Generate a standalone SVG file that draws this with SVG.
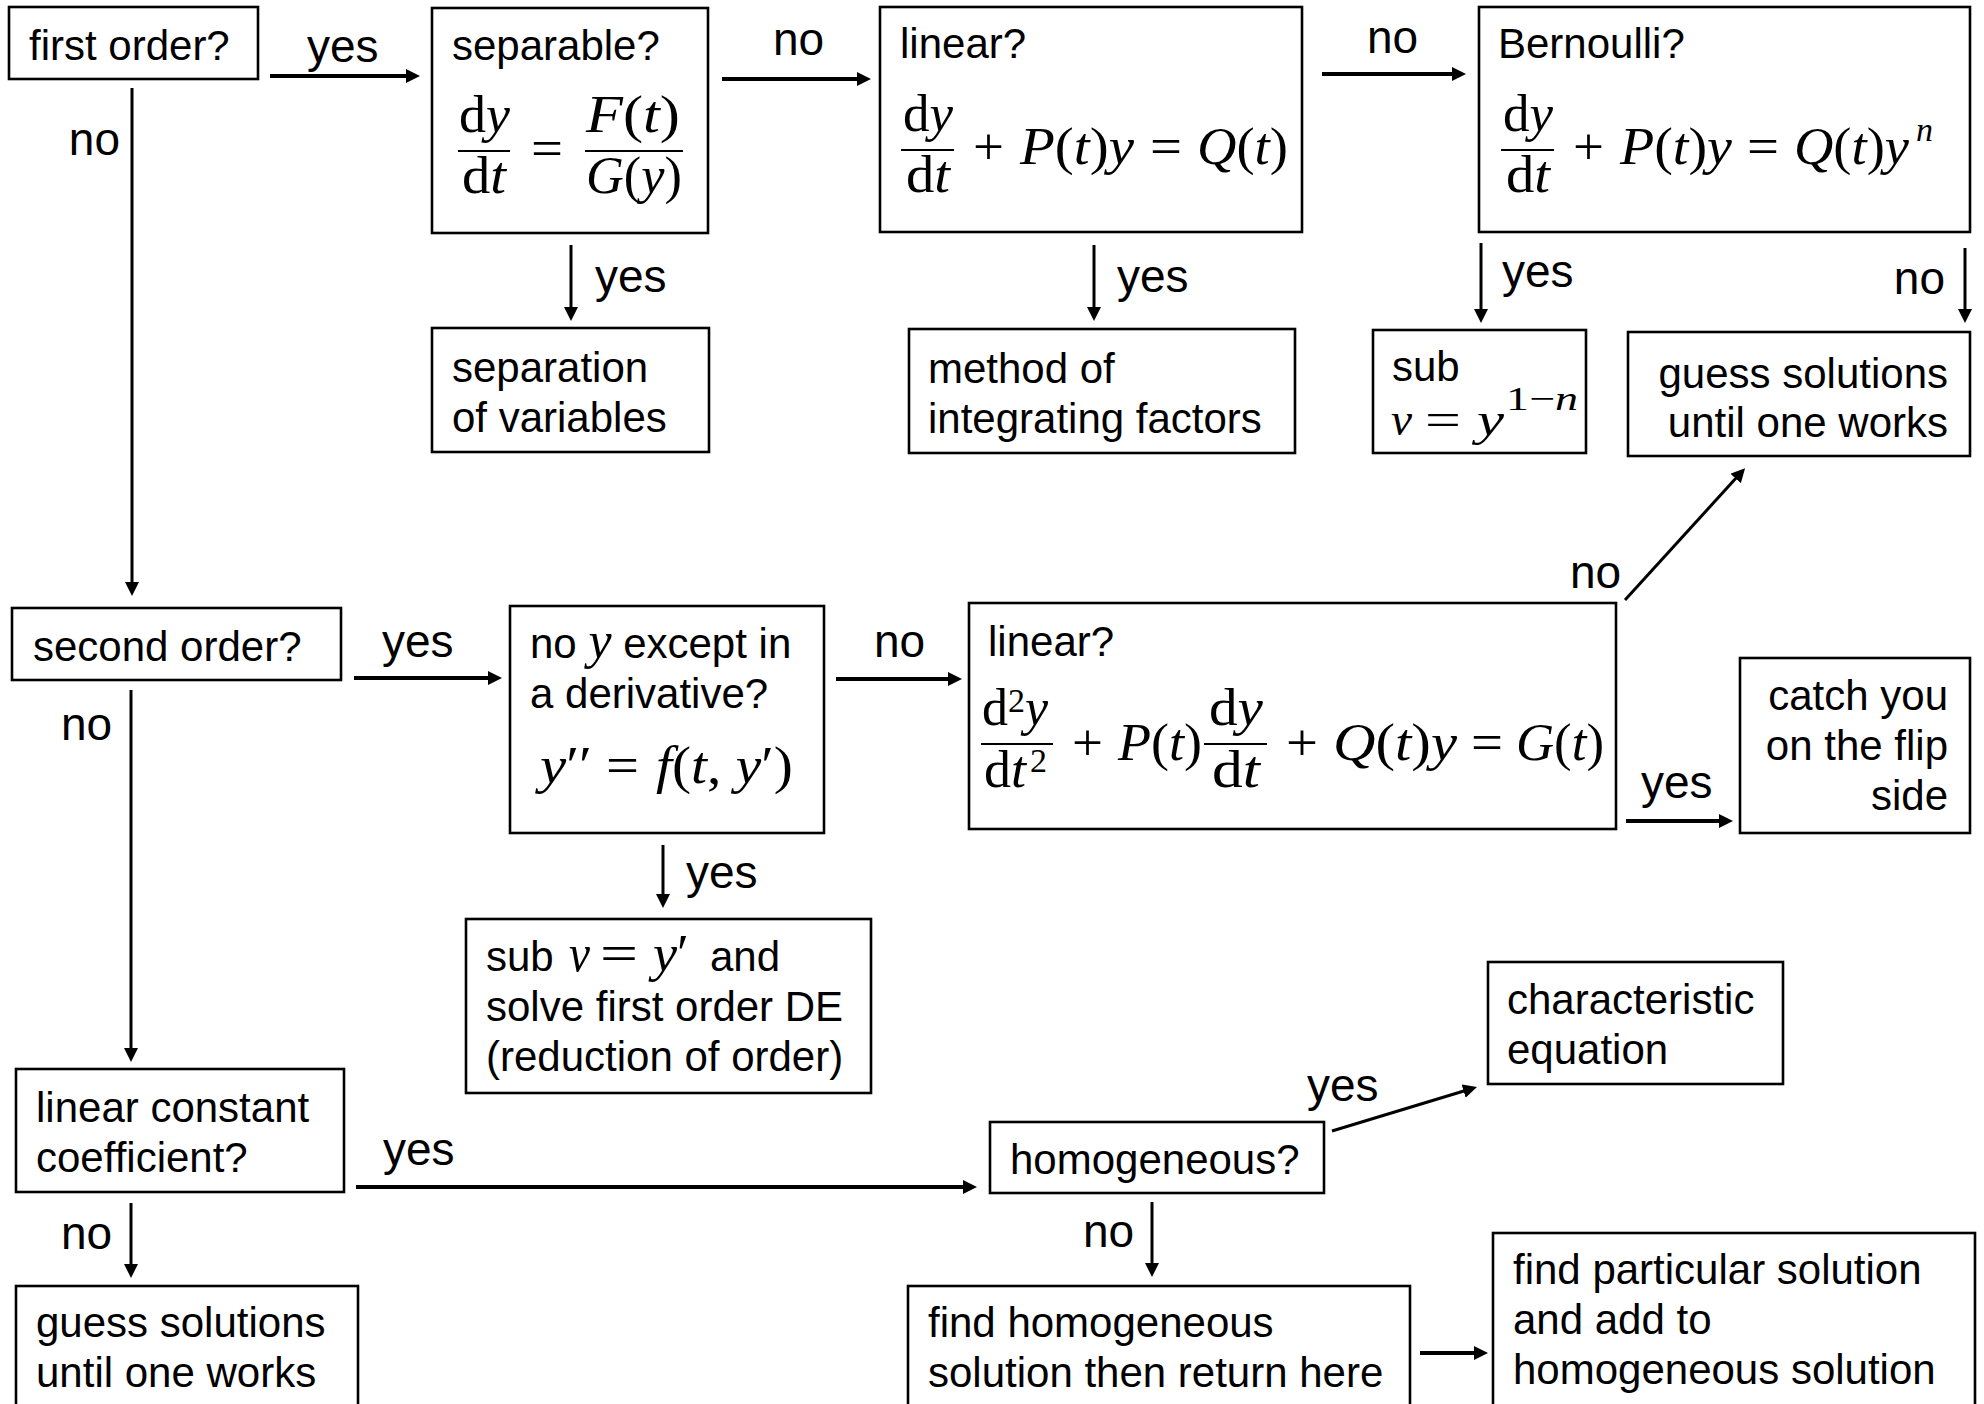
<svg xmlns="http://www.w3.org/2000/svg" width="1984" height="1404" viewBox="0 0 1984 1404">
<style>
  .box { fill: #fff; stroke: #000; stroke-width: 2.6; }
  .t { font-family: "Liberation Sans", Arial, sans-serif; font-size: 42px; fill: #000; }
  .tr { font-family: "Liberation Sans", Arial, sans-serif; font-size: 42px; fill: #000; text-anchor: end; }
  .lb { font-family: "Liberation Sans", Arial, sans-serif; font-size: 46px; fill: #000; }
  .lbe { font-family: "Liberation Sans", Arial, sans-serif; font-size: 46px; fill: #000; text-anchor: end; }
  .m { font-family: "Liberation Serif", "DejaVu Serif", serif; font-size: 52px; fill: #000; }
  .m2 { font-family: "Liberation Serif", "DejaVu Serif", serif; font-size: 46px; fill: #000; }
  .ms { font-family: "Liberation Serif", "DejaVu Serif", serif; font-size: 34px; fill: #000; }
  .i { font-style: italic; }
  .fb { stroke: #000; stroke-width: 2.2; }
  .ch { stroke: #000; stroke-width: 4; fill: none; marker-end: url(#ah); }
  .cv { stroke: #000; stroke-width: 3; fill: none; marker-end: url(#ah); }
</style>
<defs>
  <marker id="ah" markerUnits="userSpaceOnUse" markerWidth="16" markerHeight="16" refX="2" refY="7" orient="auto">
    <path d="M0,0 L14,7 L0,14 Z" fill="#000"/>
  </marker>
</defs>
<rect width="1984" height="1404" fill="#fff"/>

<g id="connectors">
  <line class="ch" x1="270" y1="76" x2="408" y2="76"/>
  <line class="cv" x1="132" y1="88" x2="132" y2="584"/>
  <line class="ch" x1="722" y1="79" x2="859" y2="79"/>
  <line class="ch" x1="1322" y1="74" x2="1454" y2="74"/>
  <line class="cv" x1="571" y1="245" x2="571" y2="309"/>
  <line class="cv" x1="1094" y1="245" x2="1094" y2="309"/>
  <line class="cv" x1="1481" y1="243" x2="1481" y2="311"/>
  <line class="cv" x1="1965" y1="248" x2="1965" y2="311"/>
  <line class="cv" x1="1625" y1="600" x2="1737" y2="477"/>
  <line class="ch" x1="354" y1="678" x2="490" y2="678"/>
  <line class="cv" x1="131" y1="690" x2="131" y2="1050"/>
  <line class="ch" x1="836" y1="679" x2="950" y2="679"/>
  <line class="cv" x1="663" y1="845" x2="663" y2="896"/>
  <line class="ch" x1="1626" y1="821" x2="1721" y2="821"/>
  <line class="ch" x1="356" y1="1187" x2="965" y2="1187"/>
  <line class="cv" x1="131" y1="1203" x2="131" y2="1266"/>
  <line class="cv" x1="1332" y1="1131" x2="1465.5" y2="1090.5"/>
  <line class="cv" x1="1152" y1="1202" x2="1152" y2="1265"/>
  <line class="ch" x1="1420" y1="1353" x2="1476" y2="1353"/>

  <text class="lb" x="307" y="62">yes</text>
  <text class="lbe" x="120" y="155">no</text>
  <text class="lb" x="773" y="55">no</text>
  <text class="lb" x="1367" y="53">no</text>
  <text class="lb" x="595" y="292">yes</text>
  <text class="lb" x="1117" y="292">yes</text>
  <text class="lb" x="1502" y="287">yes</text>
  <text class="lbe" x="1945" y="294">no</text>
  <text class="lb" x="1570" y="588">no</text>
  <text class="lb" x="382" y="657">yes</text>
  <text class="lb" x="61" y="740">no</text>
  <text class="lb" x="874" y="657">no</text>
  <text class="lb" x="686" y="888">yes</text>
  <text class="lb" x="1641" y="798">yes</text>
  <text class="lb" x="383" y="1165">yes</text>
  <text class="lb" x="61" y="1249">no</text>
  <text class="lb" x="1307" y="1101">yes</text>
  <text class="lb" x="1083" y="1247">no</text>
</g>

<g id="n-first-order">
  <rect class="box" x="9" y="7" width="249" height="72"/>
  <text class="t" x="29" y="60">first order?</text>
</g>

<g id="n-separable">
  <rect class="box" x="432" y="8" width="276" height="225"/>
  <text class="t" x="452" y="60">separable?</text>
  <text class="m" x="459" y="132" textLength="51" lengthAdjust="spacingAndGlyphs">d<tspan class="i">y</tspan></text>
  <line class="fb" x1="458" y1="151" x2="510" y2="151"/>
  <text class="m" x="462" y="193" textLength="44" lengthAdjust="spacingAndGlyphs">d<tspan class="i">t</tspan></text>
  <text class="m" x="531" y="166" textLength="32" lengthAdjust="spacingAndGlyphs">=</text>
  <text class="m" x="586" y="132" textLength="94" lengthAdjust="spacingAndGlyphs"><tspan class="i">F</tspan>(<tspan class="i">t</tspan>)</text>
  <line class="fb" x1="585" y1="151" x2="683" y2="151"/>
  <text class="m" x="586" y="193" textLength="96" lengthAdjust="spacingAndGlyphs"><tspan class="i">G</tspan>(<tspan class="i">y</tspan>)</text>
</g>

<g id="n-linear1">
  <rect class="box" x="880" y="7" width="422" height="225"/>
  <text class="t" x="900" y="58">linear?</text>
  <text class="m" x="903" y="131" textLength="50" lengthAdjust="spacingAndGlyphs">d<tspan class="i">y</tspan></text>
  <line class="fb" x1="901" y1="150" x2="954" y2="150"/>
  <text class="m" x="906" y="192" textLength="44" lengthAdjust="spacingAndGlyphs">d<tspan class="i">t</tspan></text>
  <text class="m" x="973" y="164" textLength="31" lengthAdjust="spacingAndGlyphs">+</text>
  <text class="m" x="1020" y="164" textLength="114" lengthAdjust="spacingAndGlyphs"><tspan class="i">P</tspan>(<tspan class="i">t</tspan>)<tspan class="i">y</tspan></text>
  <text class="m" x="1150" y="164" textLength="32" lengthAdjust="spacingAndGlyphs">=</text>
  <text class="m" x="1197" y="164" textLength="91" lengthAdjust="spacingAndGlyphs"><tspan class="i">Q</tspan>(<tspan class="i">t</tspan>)</text>
</g>

<g id="n-bernoulli">
  <rect class="box" x="1479" y="7" width="491" height="225"/>
  <text class="t" x="1498" y="58">Bernoulli?</text>
  <text class="m" x="1503" y="131" textLength="50" lengthAdjust="spacingAndGlyphs">d<tspan class="i">y</tspan></text>
  <line class="fb" x1="1501" y1="150" x2="1554" y2="150"/>
  <text class="m" x="1506" y="192" textLength="44" lengthAdjust="spacingAndGlyphs">d<tspan class="i">t</tspan></text>
  <text class="m" x="1573" y="164" textLength="31" lengthAdjust="spacingAndGlyphs">+</text>
  <text class="m" x="1620" y="164" textLength="112" lengthAdjust="spacingAndGlyphs"><tspan class="i">P</tspan>(<tspan class="i">t</tspan>)<tspan class="i">y</tspan></text>
  <text class="m" x="1747" y="164" textLength="32" lengthAdjust="spacingAndGlyphs">=</text>
  <text class="m" x="1794" y="164" textLength="115" lengthAdjust="spacingAndGlyphs"><tspan class="i">Q</tspan>(<tspan class="i">t</tspan>)<tspan class="i">y</tspan></text>
  <text class="ms i" x="1916" y="141">n</text>
</g>

<g id="n-separation">
  <rect class="box" x="432" y="328" width="277" height="124"/>
  <text class="t" x="452" y="382">separation</text>
  <text class="t" x="452" y="432">of variables</text>
</g>

<g id="n-integrating">
  <rect class="box" x="909" y="329" width="386" height="124"/>
  <text class="t" x="928" y="383">method of</text>
  <text class="t" x="928" y="433">integrating factors</text>
</g>

<g id="n-sub-bernoulli">
  <rect class="box" x="1373" y="330" width="213" height="123"/>
  <text class="t" x="1392" y="381">sub</text>
  <text class="m2 i" x="1391" y="435" textLength="21" lengthAdjust="spacingAndGlyphs">v</text>
  <text class="m2" x="1425" y="435" textLength="36" lengthAdjust="spacingAndGlyphs">=</text>
  <text class="m2 i" x="1477" y="435" textLength="27" lengthAdjust="spacingAndGlyphs">y</text>
  <text class="ms" x="1506" y="410" textLength="72" lengthAdjust="spacingAndGlyphs">1−<tspan class="i">n</tspan></text>
</g>

<g id="n-guess-top">
  <rect class="box" x="1628" y="332" width="342" height="124"/>
  <text class="tr" x="1948" y="388">guess solutions</text>
  <text class="tr" x="1948" y="437">until one works</text>
</g>

<g id="n-second-order">
  <rect class="box" x="12" y="608" width="329" height="72"/>
  <text class="t" x="33" y="661">second order?</text>
</g>

<g id="n-no-y">
  <rect class="box" x="510" y="606" width="314" height="227"/>
  <text class="t" x="530" y="658">no <tspan class="m i" font-size="48">y</tspan> except in</text>
  <text class="t" x="530" y="708">a derivative?</text>
  <text class="m" x="540" y="783" textLength="52" lengthAdjust="spacingAndGlyphs"><tspan class="i">y</tspan>′′</text>
  <text class="m" x="606" y="783" textLength="33" lengthAdjust="spacingAndGlyphs">=</text>
  <text class="m" x="656" y="783" textLength="137" lengthAdjust="spacingAndGlyphs"><tspan class="i">f</tspan>(<tspan class="i">t</tspan>, <tspan class="i">y</tspan>′)</text>
</g>

<g id="n-linear2">
  <rect class="box" x="969" y="603" width="647" height="226"/>
  <text class="t" x="988" y="656">linear?</text>
  <text class="m" x="982" y="725">d</text>
  <text class="ms" x="1008" y="712">2</text>
  <text class="m i" x="1025" y="725">y</text>
  <line class="fb" x1="981" y1="744" x2="1053" y2="744"/>
  <text class="m" x="984" y="787" textLength="42" lengthAdjust="spacingAndGlyphs">d<tspan class="i">t</tspan></text>
  <text class="ms" x="1030" y="772">2</text>
  <text class="m" x="1072" y="760" textLength="31" lengthAdjust="spacingAndGlyphs">+</text>
  <text class="m" x="1118" y="760" textLength="84" lengthAdjust="spacingAndGlyphs"><tspan class="i">P</tspan>(<tspan class="i">t</tspan>)</text>
  <text class="m" x="1209" y="725" textLength="54" lengthAdjust="spacingAndGlyphs">d<tspan class="i">y</tspan></text>
  <line class="fb" x1="1204" y1="744" x2="1267" y2="744"/>
  <text class="m" x="1212" y="787" textLength="48" lengthAdjust="spacingAndGlyphs">d<tspan class="i">t</tspan></text>
  <text class="m" x="1286" y="760" textLength="32" lengthAdjust="spacingAndGlyphs">+</text>
  <text class="m" x="1333" y="760" textLength="124" lengthAdjust="spacingAndGlyphs"><tspan class="i">Q</tspan>(<tspan class="i">t</tspan>)<tspan class="i">y</tspan></text>
  <text class="m" x="1471" y="760" textLength="32" lengthAdjust="spacingAndGlyphs">=</text>
  <text class="m" x="1516" y="760" textLength="88" lengthAdjust="spacingAndGlyphs"><tspan class="i">G</tspan>(<tspan class="i">t</tspan>)</text>
</g>

<g id="n-catch">
  <rect class="box" x="1740" y="658" width="230" height="175"/>
  <text class="tr" x="1948" y="710">catch you</text>
  <text class="tr" x="1948" y="760">on the flip</text>
  <text class="tr" x="1948" y="810">side</text>
</g>

<g id="n-sub-v">
  <rect class="box" x="466" y="919" width="405" height="174"/>
  <text class="t" x="486" y="971">sub</text>
  <text class="m i" x="569" y="971" textLength="21" lengthAdjust="spacingAndGlyphs">v</text>
  <text class="m" x="600" y="971" textLength="38" lengthAdjust="spacingAndGlyphs">=</text>
  <text class="m" x="653" y="971" textLength="36" lengthAdjust="spacingAndGlyphs"><tspan class="i">y</tspan>′</text>
  <text class="t" x="710" y="971">and</text>
  <text class="t" x="486" y="1021">solve first order DE</text>
  <text class="t" x="486" y="1071">(reduction of order)</text>
</g>

<g id="n-linear-const">
  <rect class="box" x="16" y="1069" width="328" height="123"/>
  <text class="t" x="36" y="1122">linear constant</text>
  <text class="t" x="36" y="1172">coefficient?</text>
</g>

<g id="n-guess-bottom">
  <rect class="box" x="16" y="1286" width="342" height="140"/>
  <text class="t" x="36" y="1337">guess solutions</text>
  <text class="t" x="36" y="1387">until one works</text>
</g>

<g id="n-homogeneous">
  <rect class="box" x="990" y="1122" width="334" height="71"/>
  <text class="t" x="1010" y="1174">homogeneous?</text>
</g>

<g id="n-characteristic">
  <rect class="box" x="1488" y="962" width="295" height="122"/>
  <text class="t" x="1507" y="1014">characteristic</text>
  <text class="t" x="1507" y="1064">equation</text>
</g>

<g id="n-find-homog">
  <rect class="box" x="908" y="1286" width="502" height="140"/>
  <text class="t" x="928" y="1337">find homogeneous</text>
  <text class="t" x="928" y="1387">solution then return here</text>
</g>

<g id="n-find-particular">
  <rect class="box" x="1493" y="1233" width="482" height="190"/>
  <text class="t" x="1513" y="1284">find particular solution</text>
  <text class="t" x="1513" y="1334">and add to</text>
  <text class="t" x="1513" y="1384">homogeneous solution</text>
</g>
</svg>
